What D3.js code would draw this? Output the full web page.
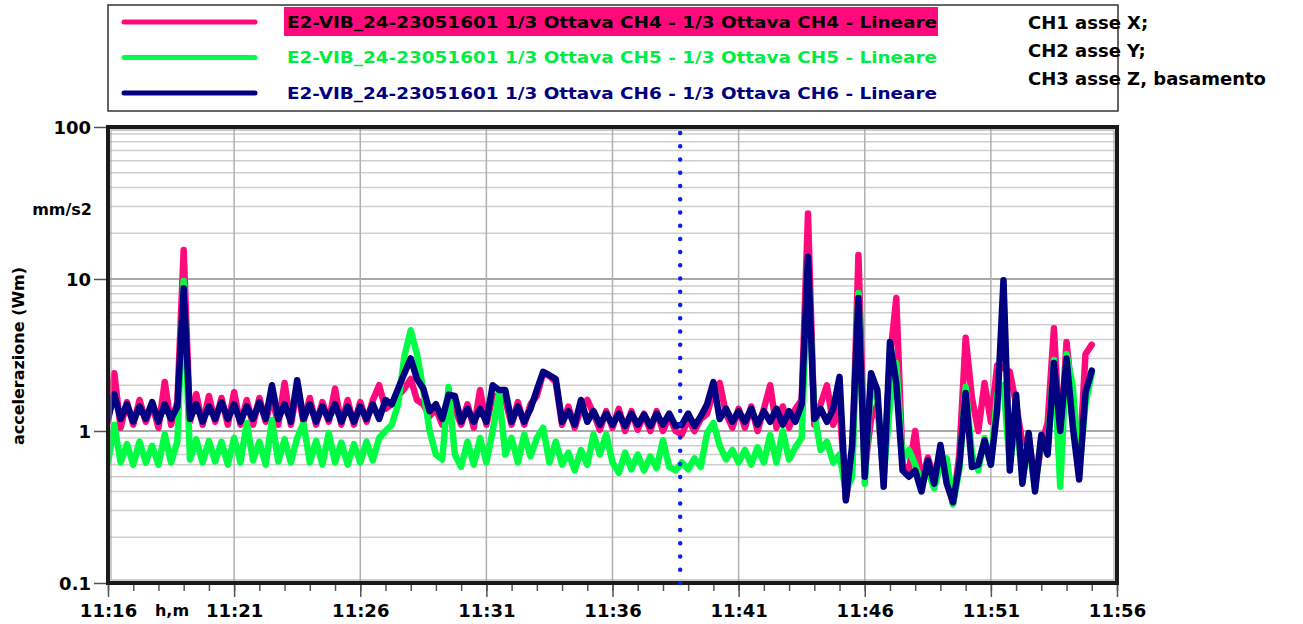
<!DOCTYPE html>
<html>
<head>
<meta charset="utf-8">
<script src="https://cdn.jsdelivr.net/npm/d3@7"></script>
<style>
  body { margin: 0; background: #fff; }
  svg text { font-family: "Comic Sans MS", "DejaVu Sans", sans-serif; font-weight: bold; }
</style>
</head>
<body>
<script>
// size of the page and plot frame
var w = 1303;
var h = 624;
var plot = { left: 108, right: 1117, top: 127, bottom: 583 };

// acquisition: one reading every 15 s from 11:16
var startTime = new Date(2023, 4, 16, 11, 16, 0);
var endTime = new Date(2023, 4, 16, 11, 56, 0);
var stepSeconds = 15;
var markerTime = new Date(2023, 4, 16, 11, 38, 41);

var seriesNames = [
    "E2-VIB_24-23051601 1/3 Ottava CH4 - 1/3 Ottava CH4 - Lineare",
    "E2-VIB_24-23051601 1/3 Ottava CH5 - 1/3 Ottava CH5 - Lineare",
    "E2-VIB_24-23051601 1/3 Ottava CH6 - 1/3 Ottava CH6 - Lineare"
];
var notes = ["CH1 asse X;", "CH2 asse Y;", "CH3 asse Z, basamento"];
var yTicks = [0.1, 1, 10, 100];
var yTickLabels = ["0.1", "1", "10", "100"];

// mm/s2, Wm
var ch4 = [
    1.15, 2.4, 1.05, 1.55, 1.1, 1.6, 1.15, 1.5, 1.05, 2.1,
    1.1, 1.55, 15.5, 1.15, 1.75, 1.1, 1.7, 1.15, 1.65, 1.1,
    1.8, 1.1, 1.6, 1.1, 1.65, 1.15, 1.7, 1.1, 2.07, 1.1,
    1.9, 1.15, 1.65, 1.1, 1.55, 1.15, 1.9, 1.1, 1.6, 1.1,
    1.55, 1.15, 1.6, 2.0, 1.4, 1.5, 1.7, 1.9, 2.2, 1.6,
    1.5, 1.25, 1.4, 1.1, 1.5, 1.4, 1.1, 1.5, 1.05, 1.86,
    1.1, 1.7, 1.7, 1.6, 1.1, 1.55, 1.1, 1.5, 1.7, 2.4,
    2.3, 2.1, 1.1, 1.45, 1.05, 1.4, 1.6, 1.3, 1.02, 1.35,
    1.05, 1.4, 1.0, 1.35, 1.02, 1.3, 1.0, 1.35, 1.0, 1.25,
    1.0, 0.95, 1.2, 1.0, 1.2, 1.3, 1.8, 2.07, 1.3, 1.05,
    1.4, 1.05, 1.45, 1.0, 1.4, 2.0, 1.05, 1.45, 1.05, 1.4,
    1.6, 27, 1.1, 1.5, 2.0, 1.1, 1.5, 0.36, 0.6, 14.4,
    0.55, 1.2, 1.5, 0.5, 3.0, 7.5, 0.6, 0.55, 1.0, 0.45,
    0.67, 0.5, 0.67, 0.5, 0.33, 0.7, 4.1, 1.65, 1.0, 2.07,
    1.15, 2.7, 2.6, 2.45, 1.5, 0.83, 0.9, 0.45, 0.8, 1.13,
    4.75, 0.8, 3.85, 1.5, 0.58, 3.2, 3.7
];
var ch5 = [
    0.62, 1.1, 0.62, 0.82, 0.6, 0.85, 0.62, 0.8, 0.6, 0.95,
    0.62, 0.85, 9.7, 0.65, 0.88, 0.62, 0.86, 0.63, 0.85, 0.6,
    0.9, 0.62, 1.13, 0.64, 0.85, 0.6, 1.18, 0.63, 0.88, 0.62,
    0.9, 1.13, 0.62, 0.86, 0.6, 0.97, 0.62, 0.84, 0.6, 0.82,
    0.62, 0.85, 0.64, 0.9, 1.0, 1.1, 1.5, 3.1, 4.6, 3.2,
    1.86, 1.0, 0.7, 0.65, 1.95, 0.7, 0.58, 0.85, 0.6, 0.9,
    0.62, 1.0, 1.78, 0.7, 0.9, 0.62, 0.95, 0.68, 0.9, 1.05,
    0.62, 0.85, 0.6, 0.72, 0.55, 0.75, 0.6, 0.95, 0.7, 0.95,
    0.62, 0.53, 0.72, 0.56, 0.7, 0.55, 0.68, 0.57, 0.87, 0.58,
    0.55, 0.62, 0.56, 0.66, 0.58, 0.97, 1.13, 0.8, 0.65, 0.75,
    0.62, 0.75, 0.6, 0.78, 0.62, 0.94, 0.62, 1.0, 0.65, 0.78,
    0.9, 12, 1.3, 0.75, 0.85, 0.62, 0.7, 0.4, 0.5, 8.1,
    0.45, 2.07, 1.6, 0.5, 1.5, 2.8, 0.65, 0.75, 0.6, 0.45,
    0.55, 0.42, 0.6, 0.66, 0.33, 0.55, 1.95, 0.7, 0.55, 0.9,
    0.6, 1.78, 2.0, 0.6, 1.2, 0.5, 0.8, 0.42, 0.9, 0.75,
    2.93, 0.43, 3.2, 1.95, 0.55, 1.5, 2.4
];
var ch6 = [
    1.2, 1.75, 1.2, 1.5, 1.15, 1.45, 1.2, 1.55, 1.15, 1.5,
    1.2, 1.45, 8.7, 1.2, 1.5, 1.15, 1.45, 1.2, 1.55, 1.2,
    1.5, 1.15, 1.45, 1.2, 1.55, 1.2, 2.0, 1.2, 1.5, 1.15,
    2.16, 1.2, 1.5, 1.15, 1.45, 1.2, 1.5, 1.15, 1.45, 1.15,
    1.45, 1.2, 1.5, 1.2, 1.6, 1.5, 1.9, 2.4, 3.0, 2.2,
    1.9, 1.35, 1.5, 1.2, 1.73, 1.7, 1.15, 1.4, 1.15, 1.4,
    1.15, 2.0, 1.86, 1.86, 1.15, 1.45, 1.15, 1.4, 1.86, 2.45,
    2.33, 2.2, 1.15, 1.35, 1.1, 1.6, 1.15, 1.35, 1.1, 1.3,
    1.1, 1.3, 1.08, 1.3, 1.1, 1.28, 1.08, 1.3, 1.1, 1.3,
    1.08, 1.1, 1.3, 1.08, 1.25, 1.5, 2.1, 1.2, 1.4, 1.15,
    1.35, 1.15, 1.4, 1.1, 1.35, 1.15, 1.4, 1.1, 1.35, 1.15,
    1.5, 14, 1.2, 1.4, 1.15, 1.4, 2.27, 0.35, 0.8, 7.5,
    0.5, 2.4, 1.86, 0.43, 3.85, 2.07, 0.55, 0.5, 0.55, 0.4,
    0.64, 0.45, 0.81, 0.45, 0.34, 0.6, 1.78, 0.58, 0.6, 0.87,
    0.6, 1.37, 9.8, 0.55, 1.73, 0.45, 0.97, 0.4, 0.94, 0.7,
    2.8, 1.0, 3.0, 1.06, 0.48, 1.78, 2.5
];

var colors = ["#ff0a7c", "#00ff44", "#000080"];
var textColors = ["#000000", "#00ee44", "#000080"];

var times = ch4.map(function(d, i) {
    return new Date(+startTime + i * stepSeconds * 1000);
});

var svg = d3.select("body")
            .append("svg")
            .attr("width", w)
            .attr("height", h);

svg.append("clipPath").attr("id", "page")
    .append("rect").attr("width", 1290).attr("height", h);
svg.append("clipPath").attr("id", "plot")
    .append("rect")
    .attr("x", plot.left).attr("y", plot.top)
    .attr("width", plot.right - plot.left)
    .attr("height", plot.bottom - plot.top);

var x = d3.scaleTime()
    .domain([startTime, endTime])
    .range([plot.left, plot.right]);
var y = d3.scaleLog()
    .domain([0.1, 100])
    .range([plot.bottom, plot.top]);

// 11:16, 11:21, ... 11:56
var majorTimes = d3.timeMinute.range(startTime, new Date(+endTime + 1000), 5);

// GRID =====================================

svg.append("g")
    .selectAll("line")
    .data(y.ticks())
    .enter().append("line")
        .attr("x1", plot.left).attr("x2", plot.right)
        .attr("y1", function(d) { return y(d); })
        .attr("y2", function(d) { return y(d); })
        .attr("stroke", function(d) { return yTicks.indexOf(d) >= 0 ? "#a8a8a8" : "#cfcfcf"; })
        .attr("stroke-width", function(d) { return yTicks.indexOf(d) >= 0 ? 2 : 1.5; });

svg.append("g")
    .selectAll("line")
    .data(majorTimes)
    .enter().append("line")
        .attr("x1", function(d) { return x(d); })
        .attr("x2", function(d) { return x(d); })
        .attr("y1", plot.top).attr("y2", plot.bottom)
        .attr("stroke", "#b0b0b0")
        .attr("stroke-width", 1.5);

// SERIES =====================================

var line = d3.line()
    .x(function(d, i) { return x(times[i]); })
    .y(function(d) { return y(d); });

svg.append("g")
    .attr("clip-path", "url(#plot)")
    .selectAll("path")
    .data([ch4, ch5, ch6])
    .enter().append("path")
        .attr("d", line)
        .attr("fill", "none")
        .attr("stroke", function(d, i) { return colors[i]; })
        .attr("stroke-width", 6.5)
        .attr("stroke-linejoin", "round")
        .attr("stroke-linecap", "round");

// frame
svg.append("rect")
    .attr("x", plot.left).attr("y", plot.top)
    .attr("width", plot.right - plot.left)
    .attr("height", plot.bottom - plot.top)
    .attr("fill", "none")
    .attr("stroke", "#1a1a1a")
    .attr("stroke-width", 4);
svg.append("rect")
    .attr("x", plot.left + 3).attr("y", plot.top + 3)
    .attr("width", plot.right - plot.left - 6)
    .attr("height", plot.bottom - plot.top - 6)
    .attr("fill", "none")
    .attr("stroke", "#9a9a9a")
    .attr("stroke-width", 1);

// cursor, dots from top to bottom of the frame
svg.append("line")
    .attr("x1", x(markerTime)).attr("x2", x(markerTime))
    .attr("y1", plot.top + 6).attr("y2", plot.bottom + 0.5)
    .attr("stroke", "#0a1ff0")
    .attr("stroke-width", 4.5)
    .attr("stroke-linecap", "round")
    .attr("stroke-dasharray", "0," + ((plot.bottom - plot.top - 6) / 34));

// AXES =====================================

var yAxis = svg.append("g")
    .attr("transform", "translate(" + (plot.left - 2) + ",0)")
    .call(d3.axisLeft(y)
        .tickValues(yTicks)
        .tickSize(12)
        .tickPadding(3)
        .tickFormat(function(d, i) { return yTickLabels[i]; }));

var xMinor = svg.append("g")
    .attr("transform", "translate(0," + (plot.bottom + 2) + ")")
    .call(d3.axisBottom(x)
        .ticks(d3.timeMinute.every(1))
        .tickSize(6)
        .tickFormat(""));

var xAxis = svg.append("g")
    .attr("transform", "translate(0," + (plot.bottom + 2) + ")")
    .call(d3.axisBottom(x)
        .tickValues(majorTimes)
        .tickSize(12)
        .tickPadding(7)
        .tickFormat(d3.timeFormat("%H:%M")));

[yAxis, xMinor, xAxis].forEach(function(g) {
    g.select(".domain").remove();
    g.selectAll(".tick line").attr("stroke", "#555").attr("stroke-width", 1.5);
    g.selectAll("text")
        .attr("fill", "#000")
        .attr("font-size", "18px")
        .attr("font-family", null);
});
yAxis.selectAll("text").attr("dy", "0.35em");

svg.append("text")
    .text("h,m")
    .attr("x", 172).attr("y", 616)
    .attr("text-anchor", "middle")
    .attr("font-size", "16px");

svg.append("text")
    .text("mm/s2")
    .attr("x", 92).attr("y", 215)
    .attr("text-anchor", "end")
    .attr("font-size", "16px");

svg.append("text")
    .text("accelerazione (Wm)")
    .attr("transform", "translate(24,356) rotate(-90)")
    .attr("text-anchor", "middle")
    .attr("font-size", "16px");

// LEGEND =====================================

svg.append("rect")
    .attr("x", 108).attr("y", 5)
    .attr("width", 1010).attr("height", 106)
    .attr("fill", "none")
    .attr("stroke", "#333")
    .attr("stroke-width", 1.5);

svg.append("rect")
    .attr("x", 284).attr("y", 7)
    .attr("width", 654).attr("height", 29)
    .attr("fill", colors[0]);

var rows = svg.append("g")
    .selectAll("g")
    .data(seriesNames)
    .enter().append("g")
        .attr("transform", function(d, i) {
            return "translate(0," + (22 + i * 35.5) + ")";
        });

rows.append("line")
    .attr("x1", 124).attr("x2", 255)
    .attr("stroke", function(d, i) { return colors[i]; })
    .attr("stroke-width", 5)
    .attr("stroke-linecap", "round");

rows.append("text")
    .text(function(d) { return d; })
    .attr("x", 287)
    .attr("dy", "0.35em")
    .attr("textLength", 650)
    .attr("lengthAdjust", "spacingAndGlyphs")
    .attr("font-size", "16px")
    .attr("fill", function(d, i) { return textColors[i]; });

svg.append("g")
    .attr("clip-path", "url(#page)")
    .selectAll("text")
    .data(notes)
    .enter().append("text")
        .text(function(d) { return d; })
        .attr("x", 1028)
        .attr("y", function(d, i) { return 29 + i * 28; })
        .attr("font-size", "18px")
        .attr("fill", "#000");
</script>
</body>
</html>
